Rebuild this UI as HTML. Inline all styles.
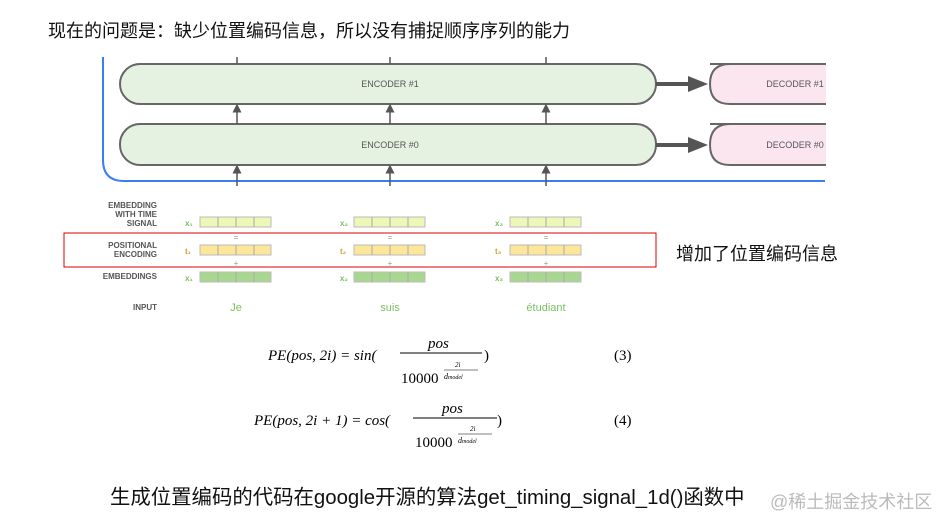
<!DOCTYPE html>
<html><head><meta charset="utf-8"><style>
body{margin:0;background:#fff;width:937px;height:518px;overflow:hidden;position:relative;font-family:"Liberation Sans","Noto Sans CJK SC",sans-serif}
.a{position:absolute;white-space:nowrap}
</style></head><body>
<div class="a" style="left:48px;top:17px;font-size:18px;color:#111">现在的问题是：缺少位置编码信息，所以没有捕捉顺序序列的能力</div>
<svg class="a" style="left:0;top:0" width="937" height="330">
<defs><marker id="ah" markerWidth="6" markerHeight="6" refX="3" refY="3" orient="auto"><path d="M0,0L6,3L0,6z" fill="#555"/></marker></defs>
<path d="M103,57 V160 Q103,181 124,181 H825" fill="none" stroke="#3a7ef0" stroke-width="2"/>
<rect x="120" y="64" width="536" height="40" rx="20" fill="#e6f2e1" stroke="#666" stroke-width="2"/>
<rect x="120" y="124" width="536" height="41" rx="20" fill="#e6f2e1" stroke="#666" stroke-width="2"/>
<path d="M710,64 H830 V104 H730 Q710,104 710,84 Q710,64 730,64z" fill="#fbe6f0" stroke="#666" stroke-width="2"/>
<path d="M710,124 H830 V165 H730 Q710,165 710,145 Q710,124 730,124z" fill="#fbe6f0" stroke="#666" stroke-width="2"/>
<rect x="826" y="55" width="111" height="130" fill="#fff"/>
<line x1="656" y1="84" x2="690" y2="84" stroke="#555" stroke-width="4"/><path d="M688,76L708,84L688,92z" fill="#555"/>
<line x1="656" y1="145" x2="690" y2="145" stroke="#555" stroke-width="4"/><path d="M688,137L708,145L688,153z" fill="#555"/>
<g stroke="#555" stroke-width="1.5">
<line x1="237" y1="57" x2="237" y2="64"/><line x1="390" y1="57" x2="390" y2="64"/><line x1="546" y1="57" x2="546" y2="64"/>
<line x1="237" y1="124" x2="237" y2="108" marker-end="url(#ah)"/><line x1="390" y1="124" x2="390" y2="108" marker-end="url(#ah)"/><line x1="546" y1="124" x2="546" y2="108" marker-end="url(#ah)"/>
<line x1="237" y1="186" x2="237" y2="169" marker-end="url(#ah)"/><line x1="390" y1="186" x2="390" y2="169" marker-end="url(#ah)"/><line x1="546" y1="186" x2="546" y2="169" marker-end="url(#ah)"/>
</g>
<g font-family="Liberation Sans" font-size="9" fill="#555" text-anchor="middle">
<text x="390" y="87">ENCODER #1</text><text x="390" y="148">ENCODER #0</text>
<text x="795" y="87">DECODER #1</text><text x="795" y="148">DECODER #0</text>
</g>
<g font-family="Liberation Sans" font-size="8" fill="#555" text-anchor="end" font-weight="bold">
<text x="157" y="208">EMBEDDING</text><text x="157" y="217">WITH TIME</text><text x="157" y="226">SIGNAL</text>
<text x="157" y="248">POSITIONAL</text><text x="157" y="257">ENCODING</text>
<text x="157" y="279">EMBEDDINGS</text><text x="157" y="310">INPUT</text>
</g>
<g id="c">
<g stroke="#bbb" stroke-width="1">
<rect x="200" y="217" width="71" height="10" fill="#eef6b8"/><rect x="200" y="245" width="71" height="10" fill="#fbe69a"/><rect x="200" y="272" width="71" height="10" fill="#a8d890"/>
</g>
<rect x="200" y="228" width="71" height="16" fill="#fff"/><rect x="200" y="256" width="71" height="15" fill="#fff"/>
<g stroke="#aaa" stroke-width="1">
<line x1="218" y1="217" x2="218" y2="227"/><line x1="236" y1="217" x2="236" y2="227"/><line x1="254" y1="217" x2="254" y2="227"/>
<line x1="218" y1="245" x2="218" y2="255"/><line x1="236" y1="245" x2="236" y2="255"/><line x1="254" y1="245" x2="254" y2="255"/>
<line x1="218" y1="272" x2="218" y2="282"/><line x1="236" y1="272" x2="236" y2="282"/><line x1="254" y1="272" x2="254" y2="282"/>
</g>
</g>
<use href="#c" x="154"/><use href="#c" x="310"/>
<g font-family="Liberation Sans" font-size="8" font-weight="bold">
<text x="185" y="226" fill="#7cc060">x₁</text><text x="340" y="226" fill="#7cc060">x₂</text><text x="495" y="226" fill="#7cc060">x₃</text>
<text x="185" y="254" fill="#d4a030">t₁</text><text x="340" y="254" fill="#d4a030">t₂</text><text x="495" y="254" fill="#d4a030">t₃</text>
<text x="185" y="281" fill="#7cc060">x₁</text><text x="340" y="281" fill="#7cc060">x₂</text><text x="495" y="281" fill="#7cc060">x₃</text>
</g>
<g font-family="Liberation Sans" font-size="8" fill="#999" text-anchor="middle">
<text x="236" y="240">=</text><text x="390" y="240">=</text><text x="546" y="240">=</text>
<text x="236" y="266">+</text><text x="390" y="266">+</text><text x="546" y="266">+</text>
</g>
<g font-family="Liberation Sans" font-size="11" fill="#7cc060" text-anchor="middle">
<text x="236" y="311">Je</text><text x="390" y="311">suis</text><text x="546" y="311">étudiant</text>
</g>
<rect x="64" y="233" width="592" height="34" fill="none" stroke="#d00" stroke-width="1"/>
</svg>
<div class="a" style="left:676px;top:240px;font-size:18px;color:#111">增加了位置编码信息</div>
<svg class="a" style="left:0;top:330px" width="937" height="130" font-family="Liberation Serif" font-size="15">
<text x="268" y="30" font-style="italic">PE(pos, 2i) = sin(</text>
<text x="428" y="18" font-style="italic">pos</text>
<line x1="400" y1="23" x2="482" y2="23" stroke="#000"/>
<text x="401" y="53">10000</text><text x="455" y="37" font-size="7" font-style="italic">2i</text><line x1="444" y1="40" x2="478" y2="40" stroke="#000" stroke-width="0.6"/><text x="444" y="49" font-size="8" font-style="italic">d<tspan font-size="6">model</tspan></text>
<text x="484" y="30">)</text><text x="614" y="30">(3)</text>
<text x="254" y="95" font-style="italic">PE(pos, 2i + 1) = cos(</text>
<text x="442" y="83" font-style="italic">pos</text>
<line x1="413" y1="88" x2="497" y2="88" stroke="#000"/>
<text x="415" y="117">10000</text><text x="470" y="101" font-size="7" font-style="italic">2i</text><line x1="458" y1="104" x2="492" y2="104" stroke="#000" stroke-width="0.6"/><text x="458" y="113" font-size="8" font-style="italic">d<tspan font-size="6">model</tspan></text>
<text x="497" y="95">)</text><text x="614" y="95">(4)</text>
</svg>
<div class="a" style="left:110px;top:480px;font-size:20.4px;color:#111">生成位置编码的代码在google开源的算法get_timing_signal_1d()函数中</div>
<div class="a" style="left:770px;top:488px;font-size:18px;color:#bbb">@稀土掘金技术社区</div>
</body></html>
